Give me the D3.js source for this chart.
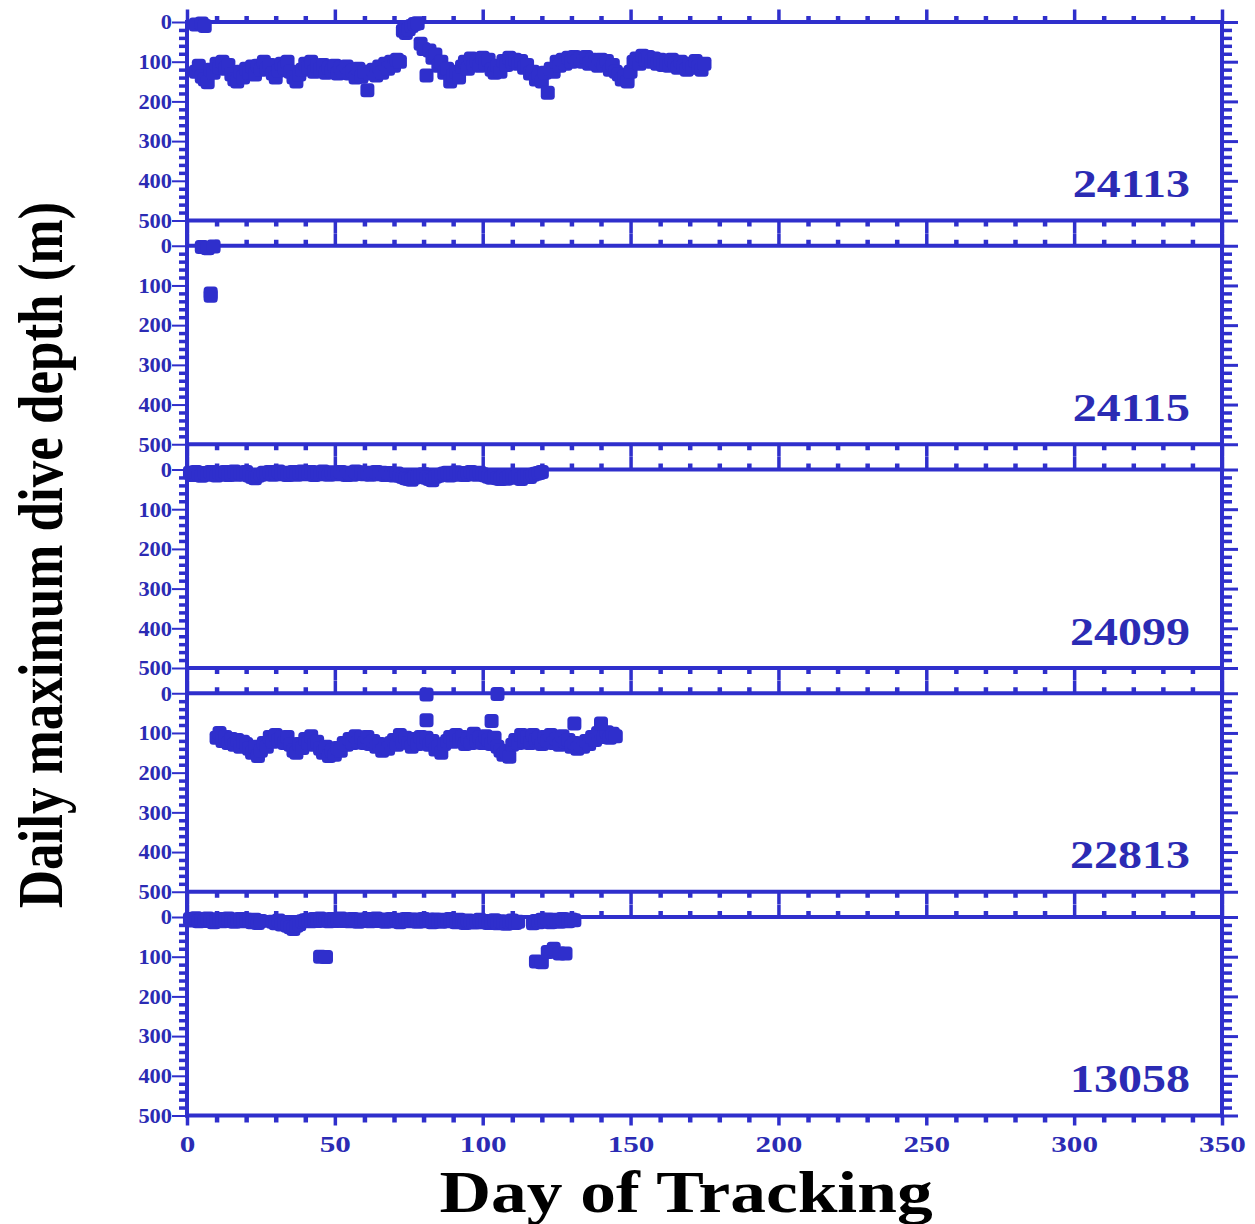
<!DOCTYPE html>
<html>
<head>
<meta charset="utf-8">
<script src="https://cdn.jsdelivr.net/npm/d3@7"></script>
<style>
  body { margin: 0; background: #ffffff; }
  svg { display: block; }
</style>
</head>
<body>
<svg id="chart" width="1255" height="1224"></svg>
<script>
// ---- Tag identifiers (one panel per tag, top to bottom) ----
const tagIds = ["24113", "24115", "24099", "22813", "13058"];

// ---- Axis tick labels ----
const dayTicks = [0, 50, 100, 150, 200, 250, 300, 350];
const depthTicks = [0, 100, 200, 300, 400, 500];

// ---- Daily maximum dive depth (m); index 0 = first tracked day ----
const depth24113Start = 3;
const depth24113 = [
  125, 110, 138, 145, 152, 120, 128, 105, 115, 100,
  118, 108, 132, 145, 150, 125, 140, 118, 128, 112,
  132, 110, 120, 100, 118, 108, 130, 140, 122, 105,
  115, 100, 125, 140, 150, 132, 120, 105, 115, 100,
  125, 110, 120, 108, 128, 115, 122, 110, 130, 115,
  125, 112, 130, 122, 140, 118, 138, 125, 172, 130,
  120, 135, 112, 128, 105, 118, 100, 110, 95, 100,
  22, 28, 18, 10, 5, 3, 55, 68, 135, 72,
  90, 82, 110, 100, 128, 118, 150, 135, 125, 140,
  112, 100, 118, 92, 108, 98, 110, 90, 105, 95,
  120, 128, 110, 125, 98, 108, 90, 100, 95, 105,
  98, 115, 108, 130, 125, 145, 135, 150, 128, 178,
  118, 125, 100, 110, 95, 105, 90, 100, 88, 98,
  92, 100, 88, 105, 95, 102, 110, 95, 108, 98,
  120, 108, 125, 132, 145, 138, 150, 125, 100, 92,
  105, 85, 95, 88, 100, 92, 105, 95, 108, 98,
  110, 95, 105, 115, 100, 112, 120, 105, 115, 98,
  112, 120, 105
];
const extra24113 = [[3, 6], [5, 4], [6, 10]];

const depth24115Start = 5;
const depth24115 = [3, null, 6, null, 2];
const extra24115 = [[8, 120], [8, 126]];

const depth24099Start = 1;
const depth24099 = [
  8, 14, 6, 12, 16, 9, 13, 6, 11, 15,
  8, 12, 6, 14, 10, 5, 13, 8, 12, 6,
  15, 19, 22, 16, 13, 8, 11, 6, 13, 9,
  5, 12, 8, 14, 9, 6, 13, 8, 5, 12,
  9, 6, 14, 8, 12, 5, 11, 13, 7, 10,
  12, 6, 11, 14, 8, 13, 5, 11, 7, 12,
  8, 13, 9, 6, 12, 8, 14, 9, 13, 15,
  10, 16, 19, 22, 24, 26, 20, 17, 15, 12,
  21, 24, 27, 18, 16, 13, 10, 8, 15, 9,
  7, 13, 9, 14, 10, 6, 11, 13, 8, 12,
  15, 18, 21, 15, 22, 24, 17, 23, 18, 16,
  21, 17, 24, 18, 15, 19, 13, 11, 9, 6
];
const extra24099 = [];

const depth22813Start = 10;
const depth22813 = [
  112, 100, 120, 110, 125, 115, 130, 118, 135, 122,
  128, 140, 150, 135, 158, 145, 125, 135, 110, 122,
  105, 118, 112, 125, 110, 130, 145, 150, 128, 138,
  115, 125, 108, 130, 122, 140, 150, 135, 158, 145,
  155, 138, 145, 125, 130, 115, 125, 108, 122, 112,
  125, 110, 128, 120, 135, 128, 145, 132, 140, 125,
  118, 130, 105, 122, 112, 125, 135, 115, 128, 110,
  125, 112, 130, 120, 142, 135, 150, 128, 120, 110,
  122, 105, 118, 110, 128, 115, 125, 102, 120, 112,
  125, 108, 118, 128, 112, 135, 145, 155, 148, 160,
  130, 118, 125, 105, 120, 110, 125, 105, 118, 112,
  128, 110, 120, 105, 125, 115, 130, 108, 122, 118,
  135, 125, 140, 130, 135, 120, 128, 110, 118, 100,
  95, 110, 98, 112, 102, 108
];
const extra22813 = [[81, 3], [105, 2], [81, 68], [103, 70], [131, 76], [140, 76]];

const depth13058Start = 1;
const depth13058 = [
  5, 9, 3, 11, 6, 10, 4, 8, 13, 7,
  5, 11, 6, 4, 10, 12, 7, 5, 11, 6,
  9, 13, 7, 15, 10, null, null, null, 12, 16,
  9, 19, 14, 22, 26, 30, 22, 18, 11, 8,
  7, 11, 5, 10, 4, 9, 6, 11, 5, 10,
  8, 4, 10, 6, 11, 5, 9, 12, 6, 10,
  5, 11, 7, 4, 10, 6, 12, 8, 5, 11,
  7, 13, 9, 5, 11, 7, 6, 12, 9, 5,
  11, 7, 13, 6, 10, 12, 7, 11, 5, 10,
  13, 7, 11, 15, 9, 12, 14, 10, 7, 13,
  10, 15, 12, 8, 16, 11, 14, 17, 12, 9,
  15, 12, null, null, null, null, 16, 10, 13, 7,
  11, 6, 13, 9, 7, 12, 5, 10, 11, 6, 8
];
const extra13058 = [[45, 100], [47, 101], [118, 112], [120, 114], [122, 88], [124, 80], [126, 92], [128, 92]];

// ---- Build per-panel point lists ----
function toPoints(start, depths, extras) {
  const pts = [];
  depths.forEach((d, i) => { if (d !== null) pts.push([start + i, d]); });
  return pts.concat(extras);
}
const panelData = [
  toPoints(depth24113Start, depth24113, extra24113),
  toPoints(depth24115Start, depth24115, extra24115),
  toPoints(depth24099Start, depth24099, extra24099),
  toPoints(depth22813Start, depth22813, extra22813),
  toPoints(depth13058Start, depth13058, extra13058)
];

// ---- Layout ----
const BLUE = "#2f2fcc";
const LABEL_BLUE = "#2b2bb4";
const SERIF = "'Liberation Serif', 'Times New Roman', serif";
const panelTop0 = 22, panelStep = 223.75, panelH = 198.5;
const MARK = 14;

const svg = d3.select("#chart");
const x = d3.scaleLinear().domain([0, 350]).range([187, 1222]);

const minorDays = d3.range(0, 351, 10).filter(d => d % 50 !== 0);
const minorDepths = d3.range(0, 501, 20).filter(d => d % 100 !== 0);

function styleTicks(sel, width) {
  sel.attr("color", BLUE);
  sel.select(".domain").remove();
  sel.selectAll(".tick line").attr("stroke-width", width);
  return sel;
}

const nPanels = tagIds.length;
const lastTop = panelTop0 + (nPanels - 1) * panelStep;

panelData.forEach((pts, i) => {
  const top = panelTop0 + i * panelStep;
  const y = d3.scaleLinear().domain([0, 500]).range([top, top + panelH]);
  const g = svg.append("g");
  const isLast = i === nPanels - 1;

  // top x ticks (outward)
  styleTicks(g.append("g").attr("transform", `translate(0,${y(0)})`)
    .call(d3.axisTop(x).tickValues(minorDays).tickSize(6).tickFormat("")), 4.5);
  styleTicks(g.append("g").attr("transform", `translate(0,${y(0)})`)
    .call(d3.axisTop(x).tickValues(dayTicks).tickSize(12.5).tickFormat("")), 3.5);
  // bottom x ticks (outward)
  styleTicks(g.append("g").attr("transform", `translate(0,${y(500)})`)
    .call(d3.axisBottom(x).tickValues(minorDays).tickSize(isLast ? 7 : 6).tickFormat("")), 4.5);
  styleTicks(g.append("g").attr("transform", `translate(0,${y(500)})`)
    .call(d3.axisBottom(x).tickValues(dayTicks).tickSize(isLast ? 10 : 12.5).tickFormat("")), 3.5);

  // left depth ticks and labels
  styleTicks(g.append("g").attr("transform", `translate(${x(0)},0)`)
    .call(d3.axisLeft(y).tickValues(minorDepths).tickSize(8).tickFormat("")), 3.5);
  const left = styleTicks(g.append("g").attr("transform", `translate(${x(0)},0)`)
    .call(d3.axisLeft(y).tickValues(depthTicks).tickSize(15).tickFormat(d3.format("d"))), 2);
  left.selectAll(".tick text")
    .attr("x", -15 / 1.12)
    .attr("dy", "0.34em")
    .attr("transform", "scale(1.12,1)")
    .attr("fill", LABEL_BLUE)
    .style("font-family", SERIF)
    .style("font-weight", "bold")
    .style("font-size", "20px");

  // right depth ticks
  styleTicks(g.append("g").attr("transform", `translate(${x(350)},0)`)
    .call(d3.axisRight(y).tickValues(minorDepths).tickSize(10).tickFormat("")), 3.5);
  styleTicks(g.append("g").attr("transform", `translate(${x(350)},0)`)
    .call(d3.axisRight(y).tickValues(depthTicks).tickSize(16).tickFormat("")), 3);

  // horizontal frame lines
  [0, 500].forEach(v => {
    g.append("line")
      .attr("x1", x(0) - 2).attr("x2", x(350) + 2)
      .attr("y1", y(v)).attr("y2", y(v))
      .attr("stroke", BLUE).attr("stroke-width", 4);
  });

  // daily maximum depth markers
  g.append("g").selectAll("rect").data(pts).join("rect")
    .attr("x", d => x(d[0]) - MARK / 2)
    .attr("y", d => y(d[1]) - MARK / 2)
    .attr("width", MARK).attr("height", MARK)
    .attr("rx", 3.5)
    .attr("fill", BLUE);

  // tag label
  g.append("text")
    .attr("transform", `translate(1190,${top + 175}) scale(1.2,1)`)
    .attr("text-anchor", "end")
    .attr("fill", LABEL_BLUE)
    .style("font-family", SERIF)
    .style("font-weight", "bold")
    .style("font-size", "40px")
    .text(tagIds[i]);

  // day labels under the last panel
  if (isLast) {
    const bottom = g.append("g").attr("transform", `translate(0,${y(500)})`)
      .call(d3.axisBottom(x).tickValues(dayTicks).tickSize(0).tickFormat(d3.format("d")));
    bottom.select(".domain").remove();
    bottom.selectAll(".tick text")
      .attr("y", 37).attr("dy", 0)
      .attr("transform", "scale(1.3,1)")
      .attr("fill", LABEL_BLUE)
      .style("font-family", SERIF)
      .style("font-weight", "bold")
      .style("font-size", "24px");
  }
});

// continuous vertical axis lines
[0, 350].forEach(v => {
  svg.append("line")
    .attr("x1", x(v)).attr("x2", x(v))
    .attr("y1", panelTop0 - 2).attr("y2", lastTop + panelH + 2)
    .attr("stroke", BLUE).attr("stroke-width", 4);
});

// axis titles
svg.append("text")
  .attr("transform", "translate(686,1212) scale(1.19,1)")
  .attr("text-anchor", "middle")
  .attr("fill", "#000")
  .style("font-family", SERIF)
  .style("font-weight", "bold")
  .style("font-size", "60px")
  .text("Day of Tracking");

svg.append("text")
  .attr("transform", "translate(62,555) scale(1.2,1) rotate(-90)")
  .attr("text-anchor", "middle")
  .attr("fill", "#000")
  .style("font-family", SERIF)
  .style("font-weight", "bold")
  .style("font-size", "53px")
  .text("Daily maximum dive depth (m)");
</script>
</body>
</html>
